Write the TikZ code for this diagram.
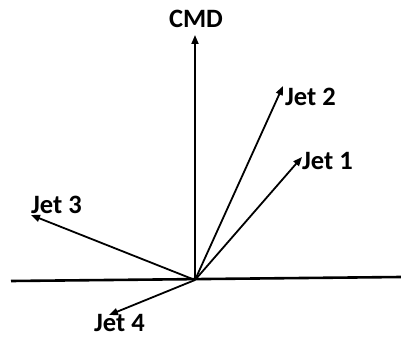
\documentclass[tikz,border=0pt]{standalone}
\usepackage{fontspec}
\setmainfont{Carlito}
\usetikzlibrary{arrows.meta}
\begin{document}
\begin{tikzpicture}[x=1pt,y=-1pt,
  vec/.style={line width=1.8pt,-{Triangle[length=9pt,width=7pt]}},
  lbl/.style={font=\bfseries\fontsize{26.5}{30}\selectfont,inner sep=0pt}]
\useasboundingbox (0,0) rectangle (401,339);
\coordinate (o) at (195,280);
\coordinate (hl) at (11,281);
\coordinate (hr) at (401,277);
\draw[line width=2.6pt] (hl) -- (hr);
\node[lbl] (cmd) at (196,19) {CMD};
\node[lbl,anchor=west] (j2) at (285,97) {Jet 2};
\node[lbl,anchor=west] (j1) at (302,161) {Jet 1};
\node[lbl,anchor=west] (j3) at (31,205) {Jet 3};
\node[lbl,anchor=west] (j4) at (94,323) {Jet 4};
\coordinate (tc) at (195,35);
\coordinate (t2) at (283,86);
\coordinate (t1) at (302,157);
\coordinate (t3) at (31,215);
\coordinate (t4) at (109,315);
\draw[vec] (o) -- (tc);
\draw[vec] (o) -- (t2);
\draw[vec] (o) -- (t1);
\draw[vec] (o) -- (t3);
\draw[vec] (o) -- (t4);
\end{tikzpicture}
\end{document}
